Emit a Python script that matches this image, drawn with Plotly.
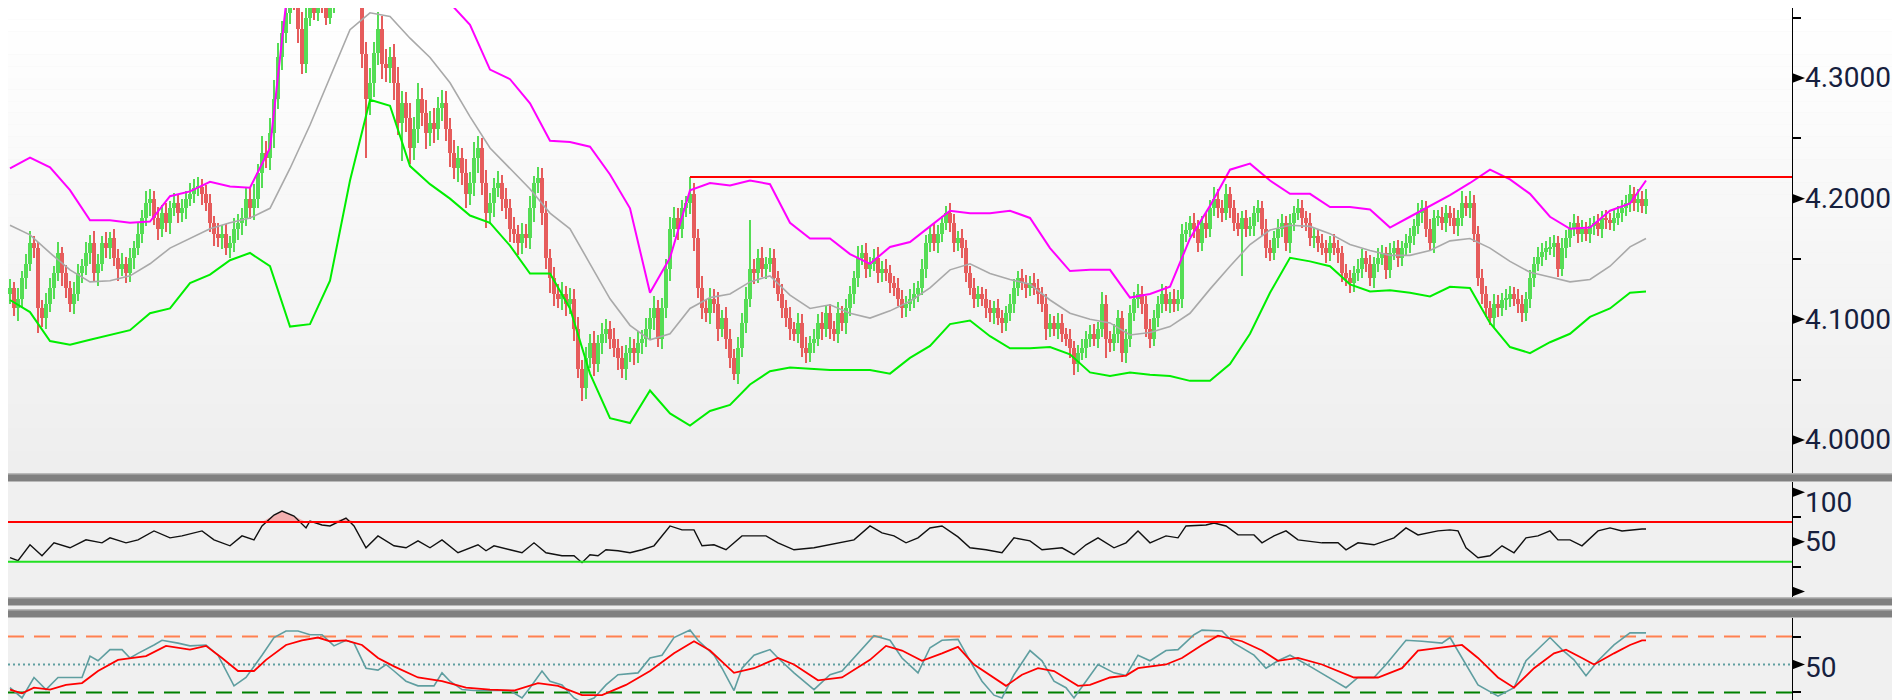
import plotly.graph_objects as go

# ---------------- DATA ----------------
# Candle closes, one per bar (price).  Open of a bar = close of the bar before.
first_open = 4.121
close = [
    4.126, 4.109, 4.117, 4.134, 4.146, 4.163, 4.159, 4.109, 4.101, 4.113,
    4.126, 4.138, 4.155, 4.138, 4.126, 4.113, 4.121, 4.138, 4.144, 4.155,
    4.163, 4.138, 4.146, 4.163, 4.159, 4.167, 4.151, 4.142, 4.146, 4.138,
    4.151, 4.159, 4.171, 4.184, 4.196, 4.200, 4.184, 4.175, 4.188, 4.180,
    4.192, 4.196, 4.188, 4.192, 4.200, 4.204, 4.209, 4.210, 4.204, 4.196,
    4.180, 4.171, 4.167, 4.171, 4.159, 4.163, 4.175, 4.180,
    4.184, 4.200, 4.192, 4.200, 4.221, 4.238, 4.234, 4.254, 4.283, 4.317,
    4.337, 4.354, 4.370, 4.366, 4.341, 4.312, 4.350, 4.362, 4.354, 4.366,
    4.362, 4.350, 4.362, 4.366, 4.375, 4.383, 4.391, 4.387, 4.383, 4.375,
    4.320, 4.283, 4.296, 4.321, 4.341, 4.312, 4.308, 4.317, 4.296, 4.263,
    4.279, 4.267, 4.242, 4.258, 4.283, 4.271, 4.254, 4.263, 4.258, 4.275,
    4.279, 4.258, 4.238, 4.225, 4.234,
    4.221, 4.204, 4.213, 4.234, 4.242, 4.213, 4.188, 4.196, 4.209, 4.213,
    4.200, 4.192, 4.175, 4.171, 4.163, 4.171, 4.167, 4.192, 4.213, 4.217,
    4.188, 4.151, 4.134, 4.121, 4.117, 4.121, 4.113, 4.117, 4.092, 4.059,
    4.043, 4.068, 4.080, 4.063, 4.080, 4.088, 4.092, 4.084, 4.076, 4.068,
    4.059, 4.072, 4.076, 4.072, 4.080, 4.084, 4.092, 4.101, 4.109, 4.084,
    4.109, 4.142, 4.175, 4.184, 4.175,
    4.192, 4.196, 4.204, 4.167, 4.126, 4.109, 4.105, 4.117, 4.113, 4.092,
    4.101, 4.084, 4.068, 4.055, 4.076, 4.097, 4.117, 4.142, 4.138, 4.151,
    4.142, 4.146, 4.151, 4.134, 4.121, 4.109, 4.101, 4.092, 4.088, 4.097,
    4.076, 4.072, 4.080, 4.084, 4.097, 4.092, 4.105, 4.092, 4.088, 4.105,
    4.097, 4.109, 4.121, 4.134, 4.151, 4.155, 4.142, 4.146, 4.151, 4.138,
    4.142, 4.138, 4.130, 4.126, 4.117,
    4.109, 4.113, 4.117, 4.121, 4.126, 4.142, 4.163, 4.171, 4.163, 4.171,
    4.180, 4.188, 4.180, 4.163, 4.167, 4.159, 4.138, 4.126, 4.117, 4.121,
    4.117, 4.109, 4.105, 4.109, 4.101, 4.097, 4.105, 4.113, 4.126, 4.134,
    4.130, 4.126, 4.130, 4.126, 4.121, 4.113, 4.092, 4.097, 4.092, 4.097,
    4.088, 4.084, 4.076, 4.063, 4.072, 4.076, 4.084, 4.088, 4.084, 4.092,
    4.113, 4.084, 4.080, 4.088, 4.101,
    4.072, 4.084, 4.105, 4.117, 4.121, 4.113, 4.092, 4.084, 4.101, 4.113,
    4.121, 4.113, 4.117, 4.113, 4.117, 4.171, 4.174, 4.180, 4.175, 4.163,
    4.180, 4.175, 4.192, 4.200, 4.192, 4.188, 4.204, 4.192, 4.180, 4.175,
    4.184, 4.175, 4.177, 4.188, 4.192, 4.175, 4.159, 4.155, 4.167, 4.175,
    4.180, 4.163, 4.180, 4.188, 4.192, 4.184, 4.180, 4.167, 4.169, 4.163,
    4.159, 4.155, 4.163, 4.159, 4.155,
    4.138, 4.134, 4.130, 4.138, 4.142, 4.151, 4.146, 4.134, 4.146, 4.151,
    4.155, 4.141, 4.155, 4.159, 4.151, 4.159, 4.163, 4.169, 4.177, 4.188,
    4.192, 4.175, 4.163, 4.184, 4.185, 4.180, 4.188, 4.184, 4.177, 4.184,
    4.196, 4.192, 4.196, 4.171, 4.134, 4.121, 4.109, 4.101, 4.113, 4.109,
    4.116, 4.117, 4.121, 4.117, 4.113, 4.105, 4.117, 4.134, 4.146, 4.152,
    4.156, 4.159, 4.160, 4.163, 4.142, 4.159, 4.167, 4.175, 4.180, 4.171,
    4.175, 4.171, 4.177, 4.180, 4.175, 4.184, 4.182, 4.180, 4.184, 4.188,
    4.192, 4.196, 4.204, 4.196, 4.200, 4.194, 4.200,
]
# Upper / lower shadow lengths of each bar, in thousandths of a price unit.
up_wick = [
    7, 5, 9, 6, 8, 10, 6, 5, 7, 9,    8, 6, 9, 5, 7, 6, 10, 8, 6, 9,
    7, 10, 8, 6, 9, 5, 8, 7, 9, 6,    8, 6, 9, 7, 10, 8, 6, 9, 7, 8,
    6, 9, 7, 8, 6, 9, 7, 8, 6, 7,     8, 6, 9, 7, 8, 6, 9, 7, 8, 10,
    9, 12, 8, 14, 10, 13, 15, 12, 10, 9,  10, 12, 8, 14, 10, 9, 12, 10, 9, 11,
    10, 9, 12, 10, 9, 11, 10, 9, 12, 10,  12, 9, 14, 10, 12, 9, 11, 13, 10, 9,
    12, 10, 13, 9, 11, 10, 12, 9, 11, 10,  9, 11, 10, 8, 12, 9, 13, 10, 8, 11,
    9, 8, 10, 7, 9, 8, 10, 7, 9, 8,   10, 6, 9, 8, 10, 7, 9, 8, 10, 7,
    9, 8, 10, 7, 9, 8, 10, 7, 9, 8,   7, 9, 8, 10, 7, 9, 8, 10, 7, 9,
    8, 10, 7, 9, 8, 10, 9, 8, 7, 6,   14, 9, 8, 10, 7, 9, 8, 10, 7, 9,
    8, 7, 9, 8, 10, 40, 8, 7, 9, 6,   8, 7, 6, 8, 7, 9, 6, 8, 7, 9,
    6, 8, 7, 9, 6, 8, 7, 9, 6, 8,     7, 6, 10, 7, 8, 6, 7, 9, 6, 8,
    7, 6, 8, 7, 6, 8, 9, 6, 8, 7,     6, 8, 7, 6, 6, 8, 7, 6, 8, 7,
    6, 8, 7, 6, 8, 7, 6, 8, 7, 6,     8, 7, 6, 8, 7, 6, 8, 7, 6, 8,
    7, 6, 8, 7, 5, 8, 6, 7, 8, 6,     7, 8, 6, 10, 7, 6, 8, 7, 6, 8,
    7, 6, 8, 7, 6, 8, 7, 6, 8, 7,     6, 8, 7, 8, 7, 6, 8, 7, 6, 8,
    7, 10, 8, 7, 8, 6, 7, 8, 6, 7,    8, 6, 7, 6, 8, 7, 6, 8, 7, 6,
    7, 6, 8, 7, 6, 8, 7, 6, 8, 7,     6, 8, 7, 6, 8, 7, 6, 8, 7, 6,
    7, 6, 8, 7, 5, 8, 6, 7, 6, 8,     7, 6, 8, 7, 6, 8, 7, 6, 8, 7,
    6, 8, 7, 10, 6, 10, 7, 6, 8, 7,   6, 8, 7, 6, 8, 7, 6, 8, 7, 6,
    7, 6, 8, 7, 6, 8, 7, 6, 8, 7,     6, 7, 6, 7, 6, 7, 6, 7, 6, 7,
    6, 7, 6, 7, 7, 7, 6, 8, 6, 8,
]
dn_wick = [
    8, 6, 10, 7, 9, 6, 8, 20, 7, 9,   7, 9, 6, 10, 8, 7, 9, 6, 8, 7,
    9, 7, 10, 6, 8, 9, 7, 10, 6, 8,   7, 9, 6, 8, 7, 10, 6, 9, 7, 8,
    9, 6, 8, 7, 9, 6, 8, 7, 9, 6,     8, 10, 7, 9, 6, 8, 7, 9, 10, 7,
    9, 10, 8, 12, 9, 10, 12, 9, 10, 8,  9, 10, 12, 9, 8, 7, 6, 7, 8, 6,
    5, 8, 4, 8, 10, 12, 12, 10, 12, 49,  14, 12, 10, 13, 11, 12, 14, 10, 32, 12,
    13, 10, 12, 11, 13, 10, 12, 9, 11, 10,  12, 9, 11, 10, 12, 9, 11, 13, 10, 12,
    9, 11, 8, 10, 9, 11, 8, 10, 9, 8,   9, 11, 8, 10, 9, 12, 10, 8, 9, 10,
    9, 10, 8, 11, 9, 8, 10, 7, 9, 8,    9, 7, 10, 8, 9, 7, 10, 8, 9, 7,
    8, 10, 7, 9, 8, 10, 7, 9, 8, 7,     9, 10, 8, 9, 7, 9, 8, 10, 7, 9,
    8, 5, 9, 7, 8, 7, 9, 8, 7, 9,       7, 8, 6, 8, 7, 9, 6, 8, 7, 8,
    7, 8, 6, 9, 7, 8, 6, 8, 7, 9,       6, 8, 7, 6, 8, 7, 6, 8, 7, 6,
    8, 7, 6, 8, 7, 6, 8, 7, 6, 8,       7, 6, 8, 7, 6, 8, 7, 6, 8, 7,
    6, 8, 7, 6, 8, 7, 9, 6, 8, 7,       6, 8, 7, 6, 8, 7, 6, 8, 7, 9,
    7, 6, 8, 7, 6, 8, 9, 7, 6, 8,       7, 6, 8, 7, 16, 7, 6, 8, 7, 8,
    7, 6, 8, 9, 7, 8, 6, 7, 8, 6,       8, 7, 6, 8, 7, 6, 8, 7, 6, 8,
    7, 6, 8, 7, 6, 8, 7, 6, 39, 7,      6, 8, 7, 6, 8, 7, 6, 8, 7, 6,
    8, 7, 6, 8, 7, 6, 8, 7, 6, 8,       7, 6, 8, 7, 6, 8, 7, 6, 8, 7,
    6, 8, 7, 6, 8, 7, 6, 8, 7, 6,       8, 7, 6, 8, 7, 6, 8, 7, 6, 8,
    7, 6, 8, 7, 6, 8, 7, 6, 8, 7,       6, 8, 7, 6, 8, 7, 6, 8, 7, 6,
    8, 7, 6, 8, 7, 6, 8, 7, 6, 8,       7, 6, 8, 7, 6, 8, 7, 6, 8, 7,
    6, 7, 6, 7, 6, 7, 6, 7, 6, 7,
]

# Bollinger-type bands, read every 5th bar (plus the last bar)
bb_idx = list(range(0, len(close), 5)) + [len(close) - 1]
bb_upper = [
    4.225, 4.234, 4.226, 4.207, 4.182, 4.182, 4.180, 4.181, 4.202, 4.206,
    4.214, 4.210, 4.209, 4.242, 4.391, 4.424, 4.441, 4.449, 4.449, 4.441,
    4.424, 4.391, 4.362, 4.344, 4.307, 4.299, 4.279, 4.248, 4.247, 4.243,
    4.220, 4.192, 4.122, 4.151, 4.207, 4.213, 4.211, 4.215, 4.212, 4.180,
    4.167, 4.167, 4.154, 4.146, 4.160, 4.164, 4.177, 4.190, 4.188, 4.188,
    4.190, 4.184, 4.159, 4.140, 4.141, 4.141, 4.118, 4.121, 4.127, 4.167,
    4.194, 4.224, 4.229, 4.215, 4.204, 4.204, 4.193, 4.193, 4.191, 4.176,
    4.185, 4.194, 4.203, 4.213, 4.224, 4.216, 4.204, 4.185, 4.175, 4.176,
    4.190, 4.196, 4.215,
]
bb_mid = [
    4.178, 4.170, 4.155, 4.141, 4.131, 4.132, 4.136, 4.146, 4.159, 4.167,
    4.175, 4.180, 4.184, 4.192, 4.225, 4.261, 4.300, 4.340, 4.354, 4.351,
    4.333, 4.317, 4.296, 4.268, 4.242, 4.225, 4.208, 4.188, 4.175, 4.146,
    4.117, 4.095, 4.083, 4.088, 4.109, 4.118, 4.121, 4.131, 4.136, 4.120,
    4.109, 4.112, 4.105, 4.101, 4.107, 4.115, 4.126, 4.141, 4.146, 4.138,
    4.133, 4.129, 4.116, 4.105, 4.100, 4.097, 4.087, 4.089, 4.094, 4.105,
    4.125, 4.144, 4.162, 4.174, 4.178, 4.177, 4.171, 4.162, 4.157, 4.153,
    4.153, 4.157, 4.165, 4.167, 4.159, 4.148, 4.139, 4.135, 4.131, 4.133,
    4.144, 4.160, 4.167,
]
bb_lower = [
    4.116, 4.106, 4.082, 4.079, 4.083, 4.087, 4.091, 4.105, 4.109, 4.130,
    4.137, 4.149, 4.155, 4.144, 4.094, 4.096, 4.132, 4.215, 4.282, 4.277,
    4.227, 4.212, 4.200, 4.186, 4.180, 4.161, 4.138, 4.138, 4.109, 4.055,
    4.018, 4.014, 4.041, 4.022, 4.012, 4.024, 4.029, 4.046, 4.057, 4.060,
    4.059, 4.058, 4.058, 4.058, 4.055, 4.068, 4.078, 4.096, 4.099, 4.086,
    4.076, 4.076, 4.077, 4.071, 4.056, 4.053, 4.056, 4.054, 4.053, 4.049,
    4.049, 4.063, 4.088, 4.122, 4.151, 4.148, 4.144, 4.129, 4.123, 4.124,
    4.122, 4.119, 4.127, 4.126, 4.097, 4.077, 4.072, 4.081, 4.088, 4.102,
    4.109, 4.122, 4.123,
]

# Horizontal resistance line (starts at the bar that made the high)
resistance_level = 4.218
resistance_start = 170

# RSI (bar index, value)
rsi_idx = [0, 2, 5, 8, 11, 15, 19, 23, 25, 29, 32, 36, 40, 43, 48, 51, 55, 58, 61, 63,
           66, 68, 71, 74, 75, 78, 80, 84, 86, 89, 92, 96, 99, 102, 105, 108, 112, 117, 119, 121,
           125, 128, 131, 134, 138, 141, 143, 145, 147, 149, 152, 155, 158, 161, 165, 168, 171, 173, 176, 179,
           183, 189, 192, 196, 201, 205, 208, 211, 215, 218, 221, 224, 227, 230, 233, 237, 240, 244, 248, 251,
           255, 258, 263, 266, 269, 272, 276, 279, 282, 285, 289, 292, 294, 299, 301, 304, 307, 311, 313, 316,
           319, 322, 328, 332, 334, 337, 341, 346, 349, 352, 357, 360, 362, 364, 367, 370, 373, 376, 379, 382,
           385, 387, 390, 393, 397, 400, 403, 405, 408, 409]
rsi_val = [34, 31, 47, 36, 49, 44, 52, 49, 54, 49, 52, 61, 54, 56, 61, 52, 46, 56, 52, 66,
           77, 81, 76, 64, 71, 67, 66, 74, 66, 44, 56, 46, 44, 51, 44, 52, 39, 47, 41, 46,
           42, 39, 49, 39, 36, 36, 29, 37, 36, 42, 41, 39, 42, 46, 66, 62, 62, 46, 47, 42,
           56, 56, 49, 42, 44, 47, 49, 52, 66, 59, 56, 49, 54, 64, 66, 55, 44, 42, 39, 54,
           51, 42, 44, 37, 47, 54, 44, 49, 61, 49, 56, 54, 66, 67, 69, 66, 57, 57, 49, 56,
           61, 52, 49, 49, 42, 49, 47, 54, 64, 57, 61, 62, 61, 44, 34, 36, 46, 39, 54, 56,
           61, 52, 52, 46, 61, 64, 61, 62, 63, 63]
rsi_levels = [70, 30]

# Stochastic %K and %D (bar index, value)
stk_idx = [0, 3, 6, 9, 12, 18, 20, 22, 25, 28, 30, 32, 36, 38, 42, 45, 49, 52, 56, 59,
           63, 66, 69, 72, 75, 78, 81, 84, 86, 89, 92, 94, 96, 99, 102, 106, 108, 110, 113, 116,
           121, 125, 128, 130, 133, 135, 138, 141, 143, 146, 149, 152, 157, 160, 163, 166, 170, 172, 176, 178,
           181, 183, 186, 190, 192, 196, 201, 205, 208, 211, 216, 220, 223, 227, 230, 233, 237, 240, 243, 246,
           248, 251, 255, 258, 261, 264, 266, 269, 272, 276, 279, 282, 285, 289, 292, 296, 298, 303, 306, 311,
           314, 317, 320, 325, 329, 334, 337, 341, 344, 349, 353, 358, 360, 364, 367, 372, 376, 379, 382, 385,
           388, 391, 394, 397, 401, 405, 408, 409]
stk_val = [25, 14, 36, 23, 36, 36, 59, 54, 66, 66, 57, 62, 71, 76, 73, 70, 71, 60, 27, 36,
           60, 79, 86, 86, 82, 82, 70, 76, 73, 46, 44, 50, 43, 32, 27, 27, 41, 32, 23, 22,
           22, 22, 14, 25, 43, 32, 28, 14, 9, 14, 28, 39, 41, 57, 60, 79, 87, 76, 60, 46,
           22, 46, 60, 66, 57, 41, 23, 39, 43, 57, 81, 76, 57, 41, 68, 76, 77, 54, 32, 17,
           14, 39, 65, 54, 32, 25, 14, 32, 50, 41, 38, 60, 54, 65, 66, 82, 87, 86, 73, 60,
           46, 54, 60, 48, 38, 25, 36, 36, 50, 76, 75, 73, 79, 50, 28, 16, 25, 54, 66, 79,
           66, 55, 38, 54, 71, 84, 84, 84]
std_idx = [0, 3, 6, 10, 14, 18, 22, 27, 34, 39, 45, 49, 53, 57, 61, 64, 69, 73, 77, 80,
           84, 88, 92, 96, 102, 108, 114, 120, 126, 132, 137, 143, 148, 154, 160, 166, 171, 175, 181, 186,
           192, 196, 202, 208, 215, 219, 223, 228, 233, 237, 241, 246, 249, 253, 257, 261, 267, 270, 275, 279,
           282, 289, 293, 298, 302, 308, 313, 317, 322, 328, 336, 342, 348, 352, 358, 363, 367, 372, 376, 381,
           386, 389, 393, 396, 401, 405, 408, 409]
std_val = [23, 19, 25, 23, 28, 30, 43, 55, 59, 70, 66, 70, 57, 43, 43, 55, 71, 76, 79, 75,
           76, 71, 57, 48, 36, 32, 25, 23, 22, 30, 27, 17, 17, 28, 43, 62, 75, 65, 41, 46,
           57, 50, 33, 36, 55, 70, 65, 54, 62, 69, 50, 36, 27, 39, 46, 43, 27, 28, 36, 38,
           46, 50, 57, 71, 81, 75, 65, 54, 57, 50, 36, 36, 46, 65, 68, 71, 57, 36, 25, 46,
           62, 66, 57, 50, 62, 71, 76, 76]
stoch_levels = [80, 50, 20]

# Axis tick values / labels
price_ticks = [4.0, 4.1, 4.2, 4.3]
price_minor = [4.05, 4.15, 4.25, 4.35]
rsi_ticks = [100, 50, 0]
rsi_minor = [75, 25]
rsi_labels = ["100", "50"]
stoch_ticks = [50]
stoch_minor = [80, 20]
stoch_labels = ["50"]

# ---------------- STYLE / LAYOUT ----------------
W, H = 1900, 700
AX = 1784 / W            # right price axis position (paper fraction)
LBL_X = 1795 / W
def py(px):               # pixel row -> paper fraction
    return 1 - px / H

MAIN_DOM = [py(466), 1]
RSI_DOM = [py(589), py(474)]
STO_DOM = [0, py(610)]
X_RANGE = [-0.5, 445.5]

UP, DOWN = "#55dd55", "#e65c5c"
LABEL_FONT = dict(family="Roboto, Liberation Sans, sans-serif", size=28, color="#16203e")

n = len(close)
idx = list(range(n))
opens = [first_open] + close[:-1]
highs = [max(o, c) + u / 1000 for o, c, u in zip(opens, close, up_wick)]
lows = [min(o, c) - d / 1000 for o, c, d in zip(opens, close, dn_wick)]
colors = [UP if c >= o else DOWN for o, c in zip(opens, close)]

fig = go.Figure()
# wicks
fig.add_trace(go.Bar(x=idx, y=[h - l for h, l in zip(highs, lows)], base=lows, width=0.38,
                     marker=dict(color=colors, line=dict(width=0)), yaxis="y", hoverinfo="skip"))
# bodies
fig.add_trace(go.Bar(x=idx, y=[abs(c - o) for o, c in zip(opens, close)],
                     base=[min(o, c) for o, c in zip(opens, close)], width=0.78,
                     marker=dict(color=colors, line=dict(width=0)), yaxis="y", hoverinfo="skip"))
# bands
fig.add_trace(go.Scatter(x=bb_idx, y=bb_mid, mode="lines", line=dict(color="#a9a9a9", width=1.6), yaxis="y"))
fig.add_trace(go.Scatter(x=bb_idx, y=bb_upper, mode="lines", line=dict(color="#ff00ff", width=2), yaxis="y"))
fig.add_trace(go.Scatter(x=bb_idx, y=bb_lower, mode="lines", line=dict(color="#00ee00", width=2), yaxis="y"))

# RSI: pink fill above the upper level, then the line
fig.add_trace(go.Scatter(x=rsi_idx, y=[rsi_levels[0]] * len(rsi_idx), mode="lines",
                         line=dict(width=0, color="rgba(0,0,0,0)"), yaxis="y2", hoverinfo="skip"))
fig.add_trace(go.Scatter(x=rsi_idx, y=[max(v, rsi_levels[0]) for v in rsi_val], mode="lines",
                         line=dict(width=0, color="rgba(0,0,0,0)"), fill="tonexty",
                         fillcolor="rgba(245,160,160,0.8)", yaxis="y2", hoverinfo="skip"))
fig.add_trace(go.Scatter(x=rsi_idx, y=rsi_val, mode="lines", line=dict(color="#111111", width=1.4), yaxis="y2"))

# Stochastic
fig.add_trace(go.Scatter(x=stk_idx, y=stk_val, mode="lines", line=dict(color="#5f9ea0", width=1.6), yaxis="y3"))
fig.add_trace(go.Scatter(x=std_idx, y=std_val, mode="lines", line=dict(color="#ff0000", width=1.8), yaxis="y3"))

shapes = []
# gradient background of the price pane
NB = 40
for k in range(NB):
    t = k / (NB - 1)
    v = int(round(255 - 17 * t))
    shapes.append(dict(type="rect", xref="paper", yref="paper", x0=0, x1=1,
                       y0=py(466 * (k + 1) / NB), y1=py(466 * k / NB),
                       fillcolor=f"rgb({v},{v},{v})", line=dict(width=0), layer="below"))
# resistance line
shapes.append(dict(type="line", xref="x", yref="y", x0=resistance_start, x1=X_RANGE[1],
                   y0=resistance_level, y1=resistance_level, line=dict(color="#ff0000", width=2)))
# RSI levels
shapes.append(dict(type="line", xref="paper", yref="y2", x0=0, x1=AX, y0=rsi_levels[0], y1=rsi_levels[0],
                   line=dict(color="#ff0000", width=2)))
shapes.append(dict(type="line", xref="paper", yref="y2", x0=0, x1=AX, y0=rsi_levels[1], y1=rsi_levels[1],
                   line=dict(color="#22e022", width=2)))
# Stochastic levels
shapes.append(dict(type="line", xref="paper", yref="y3", x0=0, x1=AX, y0=stoch_levels[0], y1=stoch_levels[0],
                   line=dict(color="#ff8050", width=2, dash="16px,10px"), layer="below"))
shapes.append(dict(type="line", xref="paper", yref="y3", x0=0, x1=AX, y0=stoch_levels[1], y1=stoch_levels[1],
                   line=dict(color="#5f9ea0", width=2, dash="2px,3px"), layer="below"))
shapes.append(dict(type="line", xref="paper", yref="y3", x0=0, x1=AX, y0=stoch_levels[2], y1=stoch_levels[2],
                   line=dict(color="#008000", width=2, dash="16px,10px"), layer="below"))
# separators between panes
for top, bot in [(465, 474), (589, 598), (601, 610)]:
    shapes.append(dict(type="rect", xref="paper", yref="paper", x0=0, x1=1, y0=py(bot), y1=py(top),
                       fillcolor="#b9b9b9", line=dict(width=0), layer="above"))
    shapes.append(dict(type="rect", xref="paper", yref="paper", x0=0, x1=1, y0=py(bot - 1), y1=py(top + 1.5),
                       fillcolor="#808080", line=dict(width=0), layer="above"))
# arrow-shaped major ticks
def arrow(yref, val):
    return dict(type="path", xref="paper", yref=yref, xsizemode="pixel", ysizemode="pixel",
                xanchor=AX, yanchor=val, path="M 0,-5 L 13,0 L 0,5 Z",
                fillcolor="black", line=dict(width=0), layer="above")
for v in price_ticks:
    shapes.append(arrow("y", v))
for v in rsi_ticks:
    shapes.append(arrow("y2", v))
for v in stoch_ticks:
    shapes.append(arrow("y3", v))

annotations = []
for v in price_ticks:
    annotations.append(dict(xref="paper", yref="y", x=LBL_X, y=v, text=f"{v:.4f}", showarrow=False,
                            xanchor="left", yanchor="middle", font=LABEL_FONT))
annotations.append(dict(xref="paper", yref="y2", x=LBL_X, y=rsi_ticks[0], yshift=-10, text=rsi_labels[0],
                        showarrow=False, xanchor="left", yanchor="middle", font=LABEL_FONT))
annotations.append(dict(xref="paper", yref="y2", x=LBL_X, y=rsi_ticks[1], text=rsi_labels[1],
                        showarrow=False, xanchor="left", yanchor="middle", font=LABEL_FONT))
annotations.append(dict(xref="paper", yref="y3", x=LBL_X, y=stoch_ticks[0], yshift=-3, text=stoch_labels[0],
                        showarrow=False, xanchor="left", yanchor="middle", font=LABEL_FONT))

def yax(dom, rng, minor_vals):
    return dict(domain=dom, range=rng, side="right", anchor="x", showline=True, linecolor="black",
                linewidth=1, showgrid=False, zeroline=False, ticks="", showticklabels=False, fixedrange=True,
                minor=dict(tickmode="array", tickvals=minor_vals, ticks="outside", ticklen=8,
                           tickwidth=2, tickcolor="black", showgrid=False))

fig.update_layout(
    width=W, height=H, margin=dict(l=0, r=0, t=0, b=0, pad=0),
    paper_bgcolor="#f0f0f0", plot_bgcolor="rgba(0,0,0,0)",
    showlegend=False, barmode="overlay", bargap=0,
    xaxis=dict(domain=[0, AX], range=X_RANGE, visible=False, fixedrange=True),
    yaxis=yax(MAIN_DOM, [3.9718, 4.3580], price_minor),
    yaxis2=yax(RSI_DOM, [-5.6, 110.3], rsi_minor),
    yaxis3=yax(STO_DOM, [3.2, 100.0], stoch_minor),
    shapes=shapes, annotations=annotations,
)

fig.write_html("out.html")
